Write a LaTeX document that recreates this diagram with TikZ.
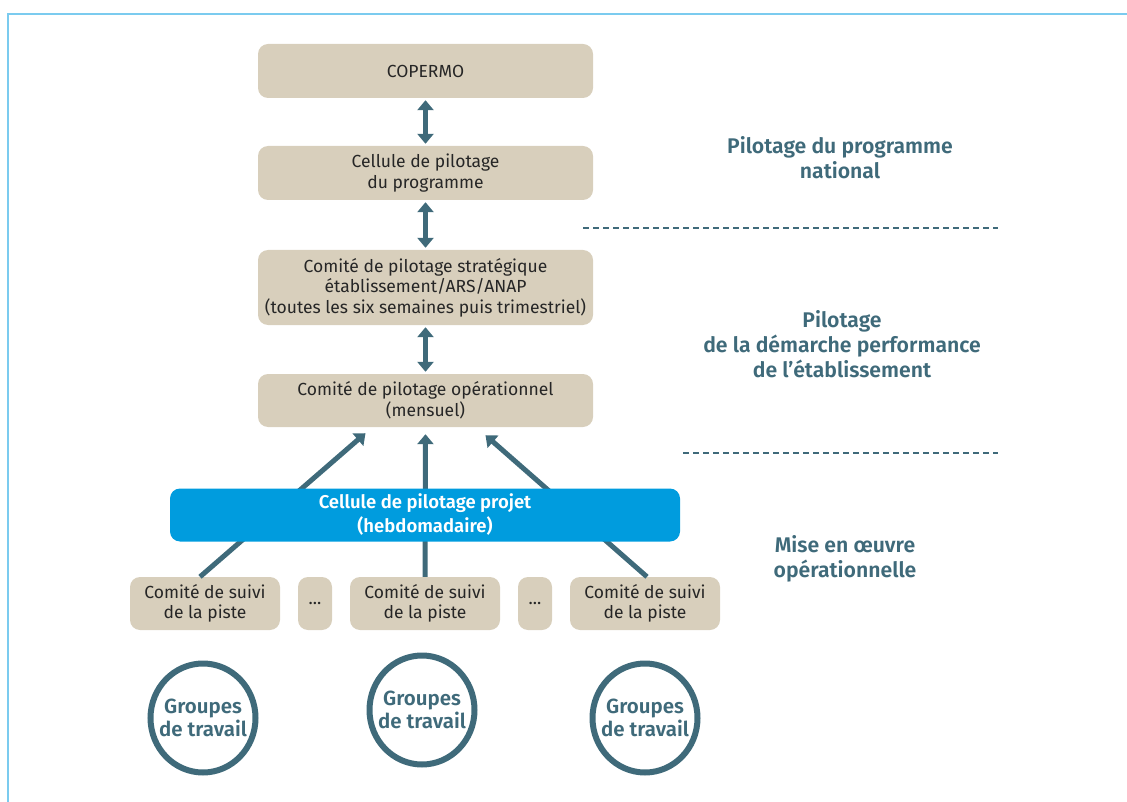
\documentclass[tikz,border=0pt]{standalone}
\usepackage{fontspec}
\setmainfont{Fira Sans}[BoldFont={Fira Sans SemiBold}]
\usetikzlibrary{arrows.meta,shapes.geometric}
\definecolor{beige}{HTML}{D8CFBC}
\definecolor{teal}{HTML}{3F6A7A}
\definecolor{bluebox}{HTML}{009CDE}
\definecolor{frame}{HTML}{7BCBEF}
\definecolor{ink}{HTML}{262626}
\begin{document}
\begin{tikzpicture}[x=1pt,y=-1pt,
  box/.style={fill=beige,rounded corners=10pt,minimum height=#1,inner sep=0pt,
    text=ink,align=center,font=\fontsize{17.5}{20.5}\selectfont},
  box/.default=54,
  link/.style={draw=teal,line width=5pt},
  dbl/.style={link,{Triangle[width=16pt,length=10pt]}-{Triangle[width=16pt,length=10pt]}},
  up/.style={link,-{Triangle[width=16pt,length=10pt]}},
  sep/.style={draw=teal,line width=1.5pt,dash pattern=on 6pt off 4pt},
  tag/.style={text=teal,align=center,font=\bfseries\fontsize{21.2}{25}\selectfont},
  group/.style={ellipse,draw=teal,line width=6pt,minimum width=105,minimum height=109,
    inner sep=-10pt,text=teal,align=center,font=\bfseries\fontsize{20.5}{23}\selectfont}]
\useasboundingbox (0,0) rectangle (1127,802);

% outer frame
\draw[frame,line width=2pt] (8,802) -- (8,14) -- (1127,14);

% national level
\node[box,minimum width=335] (cop) at (425.5,71) {COPERMO};
\node[box,minimum width=335] (cpp) at (425.5,173) {Cellule de pilotage\\du programme};
\node[box=75,minimum width=335] (strat) at (425.5,287.5)
  {Comité de pilotage stratégique\\établissement/ARS/ANAP\\(toutes les six semaines puis trimestriel)};
\node[box=53,minimum width=335] (oper) at (425.5,400.5) {Comité de pilotage opérationnel\\(mensuel)};

\draw[dbl,shorten <=2pt,shorten >=2pt] (cop.south) -- (cpp.north);
\draw[dbl,shorten <=2pt,shorten >=2pt] (cpp.south) -- (strat.north);
\draw[dbl,shorten <=2pt,shorten >=2pt] (strat.south) -- (oper.north);

% follow-up committees
\node[box=53,minimum width=150] (s1) at (205,603.5) {Comité de suivi\\de la piste};
\node[box=53,minimum width=34] (d1) at (315,603.5) {...};
\node[box=53,minimum width=150] (s2) at (425,603.5) {Comité de suivi\\de la piste};
\node[box=53,minimum width=34] (d2) at (535,603.5) {...};
\node[box=53,minimum width=150] (s3) at (645,603.5) {Comité de suivi\\de la piste};

\draw[up] ([xshift=-5pt]s1.north) -- ([shift={(-60,6)}]oper.south);
\draw[up] (s2.north) -- ([shift={(0,7)}]oper.south);
\draw[up] ([xshift=2pt]s3.north) -- ([shift={(60,8)}]oper.south);

% project cell sits on top of the arrows
\node[fill=bluebox,rounded corners=10pt,minimum width=510,minimum height=53,inner sep=0pt,
  text=white,align=center,font=\bfseries\fontsize{18.5}{24}\selectfont] (projet) at (425,515)
  {Cellule de pilotage projet\\(hebdomadaire)};

% working groups
\node[group] (g1) at (203,718) {Groupes\\de travail};
\node[group] (g2) at (422,710) {Groupes\\de travail};
\node[group] (g3) at (645,718) {Groupes\\de travail};

% level separators
\coordinate (sepAa) at (583,228);
\coordinate (sepAb) at (998,228);
\coordinate (sepBa) at (683,453);
\coordinate (sepBb) at (998,453);
\draw[sep] (sepAa) -- (sepAb);
\draw[sep] (sepBa) -- (sepBb);

% level labels
\node[tag] (lvlA) at (840,158) {Pilotage du programme\\national};
\node[tag] (lvlB) at (842,344) {Pilotage\\de la démarche performance\\de l’établissement};
\node[tag] (lvlC) at (845,559) {Mise en œuvre\\opérationnelle};
\end{tikzpicture}
\end{document}
